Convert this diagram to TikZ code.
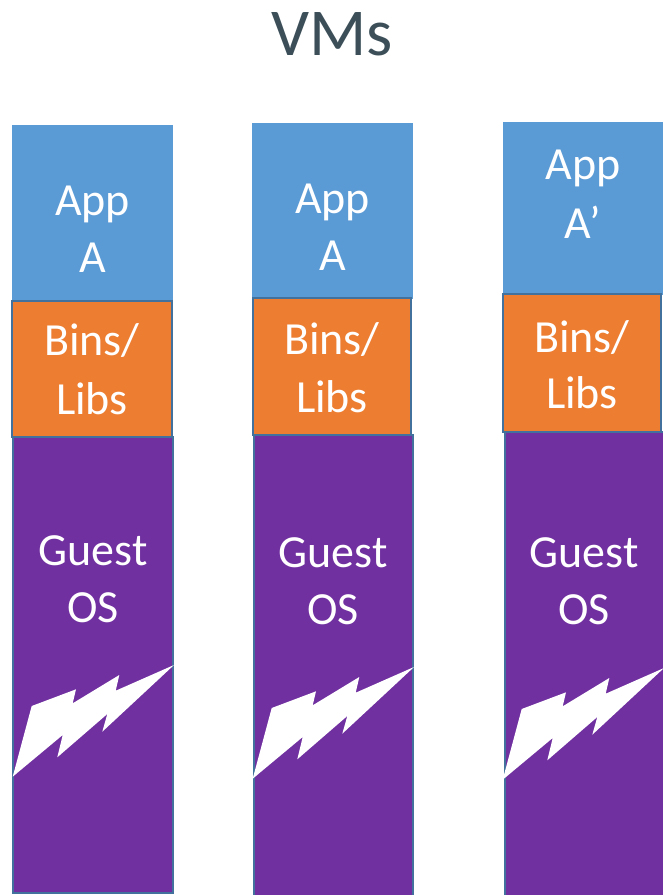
\documentclass[tikz,border=0pt]{standalone}
\usepackage{fontspec}
\setmainfont{Carlito}
\definecolor{appblue}{HTML}{5B9BD5}
\definecolor{binorange}{HTML}{ED7D31}
\definecolor{ospurple}{HTML}{7030A0}
\definecolor{edgeblue}{HTML}{41719C}
\definecolor{titlegray}{HTML}{3C4F59}
\begin{document}
\begin{tikzpicture}[x=1pt,y=-1pt,
  appfill/.style={fill=appblue},
  binbox/.style={fill=binorange,draw=edgeblue,line width=2pt},
  osbox/.style={fill=ospurple,draw=edgeblue,line width=2pt},
  lbl/.style={text=white,font=\fontsize{46}{56}\selectfont,anchor=base,inner sep=0pt},
  bolt/.style={fill=white}]
\useasboundingbox (0,0) rectangle (663,895);
\node[text=titlegray,font=\fontsize{67}{80}\selectfont,anchor=base,inner sep=0pt] (title) at (332,55) {VMs};
% column 1
\fill[appfill] (12,125) rectangle (173,301);
\filldraw[osbox] (13,437) rectangle (173,893);
\filldraw[binbox] (12,301) rectangle (172,437);
% column 2
\fill[appfill] (252,123) rectangle (413,299);
\filldraw[osbox] (254,435) rectangle (413,905);
\filldraw[binbox] (253,298) rectangle (411,435);
% column 3
\fill[appfill] (503,122) rectangle (663,295);
\filldraw[osbox] (505,432) rectangle (664,905);
\filldraw[binbox] (503,294) rectangle (661,432);
% bolts
\foreach \dx/\dy in {12/0, 252/2, 502/3} {
  \fill[bolt,shift={(\dx,\dy)}] (0.7,776.7)--(19.7,706)--(64,689.3)--(60.7,703.3)--(107.3,675)--(103.7,690.7)--(162,665)--(90.3,731.7)--(95.3,714)--(45.3,757.3)--(50.7,735)--cycle;
}
% labels column 1
\node[lbl] (c1app) at (92.5,215) {App};
\node[lbl] (c1a) at (92.5,272) {A};
\node[lbl] (c1bins) at (92,355) {Bins/};
\node[lbl] (c1libs) at (92,414) {Libs};
\node[lbl] (c1guest) at (93,565) {Guest};
\node[lbl] (c1os) at (93,622) {OS};
% labels column 2
\node[lbl] (c2app) at (332.5,213) {App};
\node[lbl] (c2a) at (332.5,270) {A};
\node[lbl] (c2bins) at (332,354) {Bins/};
\node[lbl] (c2libs) at (332,412) {Libs};
\node[lbl] (c2guest) at (333,567) {Guest};
\node[lbl] (c2os) at (333,624) {OS};
% labels column 3
\node[lbl] (c3app) at (583,179) {App};
\node[lbl] (c3a) at (583,238) {A’};
\node[lbl] (c3bins) at (582,352) {Bins/};
\node[lbl] (c3libs) at (582,408) {Libs};
\node[lbl] (c3guest) at (584,567) {Guest};
\node[lbl] (c3os) at (584,624) {OS};
\end{tikzpicture}
\end{document}
